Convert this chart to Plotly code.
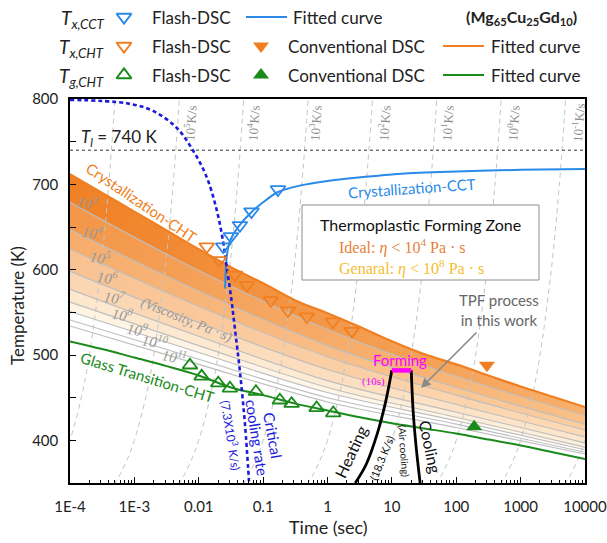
import plotly.graph_objects as go

# ---------------- data ----------------
# T_x,CCT (continuous cooling) - Flash-DSC and fitted curve
cct_flash_t = [0.024, 0.0316, 0.0436, 0.066, 0.17]
cct_flash_T = [627, 639, 652, 668, 694]
cct_fit_t = [0.0257, 0.0263, 0.0272, 0.0288, 0.0325, 0.042, 0.065, 0.1, 0.17, 0.37, 1, 3, 14, 100, 1000, 10000]
cct_fit_T = [578, 600, 615, 627, 638, 651, 667, 679, 691, 698.5, 704, 708, 712.5, 715, 717, 718]

# T_x,CHT (continuous heating)
cht_flash_t = [0.0133, 0.0206, 0.0365, 0.056, 0.132, 0.243, 0.479, 1.21, 2.39]
cht_flash_T = [627, 611, 594, 582, 564, 552, 545, 539, 528]
cht_conv_t = [300]
cht_conv_T = [488]

# T_g,CHT
tg_flash_t = [0.0073, 0.0111, 0.0201, 0.0305, 0.0773, 0.182, 0.277, 0.678, 1.23]
tg_flash_T = [488, 475, 467, 461, 457, 447, 443, 438, 432]
tg_conv_t = [190]
tg_conv_T = [416]

# fitted curves (time grid shared)
fit_t = [1e-4, 3.16e-4, 1e-3, 3.16e-3, 0.01, 0.0316, 0.1, 0.316, 1, 3.16, 10, 31.6, 100, 316, 1000, 3160, 1e4]
cht_fit_T = [712, 690, 668, 646, 624, 603, 584, 564, 549, 533, 516, 501, 489, 476, 463, 451, 439]
tg_fit_T = [516, 507, 497, 487, 476, 462, 453, 443, 435, 427, 420, 414, 408, 401, 394, 386, 378]

# iso-viscosity lines (Pa*s)
visc_t = [1e-4, 1e-2, 1, 100, 1e4]
eta3_T = [679, 599, 530, 475, 429]
eta4_T = [647, 575, 511, 462, 419]
eta5_T = [624, 557, 498, 453, 412]
eta6_T = [598, 538, 483, 442, 404]
eta7_T = [577, 522, 470, 433, 397]
eta8_T = [562, 511, 462, 427, 392]
eta9_T = [551, 503, 456, 423, 389]
eta10_T = [541, 495, 450, 419, 386]
eta11_T = [534, 489, 445, 415, 384]
visc_exponents = [3, 4, 5, 6, 7, 8, 9, 10, 11]

# critical cooling rate curve (7.3x10^3 K/s)
crit_t = [1e-4, 7.6e-4, 1.95e-3, 4.57e-3, 8.1e-3, 0.0132, 0.019, 0.024, 0.0271, 0.0324, 0.0363, 0.0437, 0.0525, 0.0603]
crit_T = [799, 795, 786, 766, 740, 709, 670, 632, 604, 563, 532, 480, 417, 352]

# TPF process in this work
heat_t = [2.7, 4.0, 6.0, 8.0, 10.0]
heat_T = [350, 372, 409, 445, 482]
form_t = [10, 20]
form_T = [482, 482]
cool_t = [20, 21.5, 24, 27.5]
cool_T = [482, 432, 390, 350]

T_liquidus = 740

# constant heating-rate guide lines (K/s), starting from room temperature
guide_rates = [1e6, 1e5, 1e4, 1e3, 1e2, 1e1, 1e0, 1e-1, 1e-2]
room_T = 300
guide_T = [340, 345, 350, 360, 380, 400, 450, 500, 600, 700, 800]
rate_label_exp = [5, 4, 3, 2, 1, 0, -1]

x_tickvals = [1e-4, 1e-3, 1e-2, 1e-1, 1, 10, 100, 1000, 10000]
x_ticktext = ["1E-4", "1E-3", "0.01", "0.1", "1", "10", "100", "1000", "10000"]

# ---------------- styling ----------------
W, H = 607, 543
X0, X1, Y0, Y1 = 70, 585, 99, 483
BLUE = '#2B8AE8'
ORANGE = '#F07F22'
GREEN = '#1A8A1A'
CRIT = '#1C1CD8'
MAG = '#FF00FF'
GRID = '#BDBDBD'
SANS = 'Lato'
SERIF = 'Liberation Serif'

fig = go.Figure()


def tr(x, y, **kw):
    fig.add_trace(go.Scatter(x=x, y=y, xaxis='x', yaxis='y', hoverinfo='skip',
                             showlegend=False, **kw))


# gradient bands below the crystallization curve (left colour -> right colour)
band_colors = [('rgb(240,128,36)', 'rgb(247,176,110)'),
               ('rgb(243,150,72)', 'rgb(249,192,136)'),
               ('rgb(246,172,108)', 'rgb(251,206,160)'),
               ('rgb(249,194,146)', 'rgb(252,218,182)'),
               ('rgb(251,214,178)', 'rgb(253,230,204)'),
               ('rgb(253,231,205)', 'rgb(254,239,220)'),
               ('rgb(255,243,226)', 'rgb(255,247,236)')]
eta_rows = [eta3_T, eta4_T, eta5_T, eta6_T, eta7_T, eta8_T, eta9_T, eta10_T, eta11_T]
tr(fit_t, cht_fit_T, mode='lines', line=dict(width=0, shape='spline', color=ORANGE))
for i, row in enumerate(eta_rows):
    if i < len(band_colors):
        cl, cr = band_colors[i]
        tr(visc_t, row, mode='lines', line=dict(color=GRID, width=1.1, shape='spline'),
           fill='tonexty', fillcolor=cl,
           fillgradient=dict(type='horizontal', colorscale=[[0, cl], [1, cr]]))
    else:
        tr(visc_t, row, mode='lines', line=dict(color=GRID, width=1.1, shape='spline'))

# heating-rate guides
for r in guide_rates:
    tr([(T - room_T) / r for T in guide_T], guide_T, mode='lines',
       line=dict(color='#C4C4C4', width=1, dash='5px,4px', shape='spline'))

# liquidus
tr([1e-4, 1e4], [T_liquidus, T_liquidus], mode='lines', line=dict(color='#333', width=1, dash='3px,3px'))

# fitted curves
tr(fit_t, tg_fit_T, mode='lines', line=dict(color=GREEN, width=2, shape='spline'))
tr(fit_t, cht_fit_T, mode='lines', line=dict(color=ORANGE, width=2.2, shape='spline'))
tr(cct_fit_t, cct_fit_T, mode='lines', line=dict(color=BLUE, width=2, shape='spline', smoothing=0.8))
tr(crit_t, crit_T, mode='lines', line=dict(color=CRIT, width=2.6, dash='4px,3px', shape='spline'))

# TPF path
tr(heat_t, heat_T, mode='lines', line=dict(color='black', width=2.8, shape='spline'))
tr(cool_t, cool_T, mode='lines', line=dict(color='black', width=2.8, shape='spline'))
tr(form_t, form_T, mode='lines', line=dict(color=MAG, width=4.5))

# markers
tr(cht_flash_t, cht_flash_T, mode='markers',
   marker=dict(symbol='triangle-down-open', size=13, color=ORANGE, line=dict(width=1.8, color=ORANGE)))
tr(cct_flash_t, cct_flash_T, mode='markers',
   marker=dict(symbol='triangle-down-open', size=13, color=BLUE, line=dict(width=1.8, color=BLUE)))
tr(tg_flash_t, tg_flash_T, mode='markers',
   marker=dict(symbol='triangle-up-open', size=13, color=GREEN, line=dict(width=1.8, color=GREEN)))
tr(cht_conv_t, cht_conv_T, mode='markers', marker=dict(symbol='triangle-down', size=14, color=ORANGE))
tr(tg_conv_t, tg_conv_T, mode='markers', marker=dict(symbol='triangle-up', size=14, color=GREEN))

# ---------------- legend (overlay pixel axes) ----------------
rows_y = [17, 46, 75]


def ov(x, y, **kw):
    fig.add_trace(go.Scatter(x=x, y=y, xaxis='x2', yaxis='y2', hoverinfo='skip',
                             showlegend=False, cliponaxis=False, **kw))


def note(x, y, text, size=15, color='#222', angle=0, family=SANS, xanchor='center', **kw):
    fig.add_annotation(x=x, y=y, xref='x2', yref='y2', text=text, showarrow=False,
                       font=dict(family=family, size=size, color=color), textangle=angle,
                       xanchor=xanchor, yanchor='middle', **kw)


ov([124], [rows_y[0]], mode='markers',
   marker=dict(symbol='triangle-down-open', size=13, color=BLUE, line=dict(width=2, color=BLUE)))
ov([124], [rows_y[1]], mode='markers',
   marker=dict(symbol='triangle-down-open', size=13, color=ORANGE, line=dict(width=2, color=ORANGE)))
ov([124], [rows_y[2]], mode='markers',
   marker=dict(symbol='triangle-up-open', size=13, color=GREEN, line=dict(width=2, color=GREEN)))
ov([261], [rows_y[1]], mode='markers', marker=dict(symbol='triangle-down', size=14, color=ORANGE))
ov([261], [rows_y[2]], mode='markers', marker=dict(symbol='triangle-up', size=14, color=GREEN))
ov([246, 287], [rows_y[0]] * 2, mode='lines', line=dict(color=BLUE, width=2))
ov([443, 484], [rows_y[1]] * 2, mode='lines', line=dict(color=ORANGE, width=2))
ov([443, 484], [rows_y[2]] * 2, mode='lines', line=dict(color=GREEN, width=2))

note(106, rows_y[0] + 2, '<i>T<sub>x,CCT</sub></i>', size=19, xanchor='right')
note(106, rows_y[1] + 2, '<i>T<sub>x,CHT</sub></i>', size=19, xanchor='right')
note(106, rows_y[2] + 2, '<i>T<sub>g,CHT</sub></i>', size=19, xanchor='right')
for y in rows_y:
    note(150, y, 'Flash-DSC', size=17, xanchor='left')
note(291, rows_y[0], 'Fitted curve', size=17, xanchor='left')
note(286, rows_y[1], 'Conventional DSC', size=17, xanchor='left')
note(286, rows_y[2], 'Conventional DSC', size=17, xanchor='left')
note(489, rows_y[1], 'Fitted curve', size=17, xanchor='left')
note(489, rows_y[2], 'Fitted curve', size=17, xanchor='left')
note(521, rows_y[0], '<b>(Mg<sub>65</sub>Cu<sub>25</sub>Gd<sub>10</sub>)</b>', size=16)

# ---------------- in-plot texts ----------------
note(119, 138, '<i>T<sub>l</sub></i> = 740 K', size=17)
note(141, 202, 'Crystallization-CHT', size=15, color=ORANGE, angle=34)
note(412, 188, 'Crystallization-CCT', size=15, color=BLUE, angle=-4)
note(147, 377, 'Glass Transition-CHT', size=15, color=GREEN, angle=17)

visc_label_pos = [(87, 202), (92, 232), (100, 257), (107, 277), (114, 297),
                  (122, 314), (137, 329), (155, 341), (174, 356)]
for e, (px, py) in zip(visc_exponents, visc_label_pos):
    note(px, py, '<i>10<sup>%d</sup></i>' % e, size=15, color='#989898', family=SERIF, angle=10)
note(186, 320, '<i>(Viscosity, Pa · s)</i>', size=14, color='#989898', family=SERIF, angle=22)

rate_label_x = [190, 253, 315, 384, 447, 513, 578]
for e, px in zip(rate_label_exp, rate_label_x):
    note(px, 123, '10<sup>%d</sup>K/s' % e, size=13, color='#8E8E8E', family=SERIF, angle=-86)

# Thermoplastic forming zone box
fig.add_shape(type='rect', xref='x2', yref='y2', x0=302, x1=539, y0=205, y1=280,
              line=dict(color='#8C8C8C', width=1), fillcolor='white', layer='above')
note(420, 224, 'Thermoplastic Forming Zone', size=16, color='#111')
ov([318], [246], mode='markers', marker=dict(symbol='square', size=5, color='#E8702A'))
ov([318], [267], mode='markers', marker=dict(symbol='square', size=5, color='#F8C21E'))
note(337, 246, 'Ideal: <i>η</i> < 10<sup>4</sup> Pa · s', size=16, color='#E8803A', family=SERIF, xanchor='left')
note(337, 267, 'Genaral: <i>η</i> < 10<sup>8</sup> Pa · s', size=16, color='#F5BE2E', family=SERIF, xanchor='left')

# TPF annotation + arrow
note(499, 310, 'TPF process<br>in this work', size=15, color='#666')
fig.add_annotation(x=421, y=388, xref='x2', yref='y2', ax=478, ay=331, axref='x2', ayref='y2',
                   text='', showarrow=True, arrowhead=2, arrowsize=1.2, arrowwidth=1.6,
                   arrowcolor='#8A8A8A')
note(400, 360, 'Forming', size=15, color=MAG)
note(373, 381, '(10s)', size=11, color=MAG, family=SERIF)
note(350, 452, 'Heating', size=16, color='#111', angle=-65)
note(381, 458, '(18.3 K/s)', size=11, color='#111', angle=-68)
note(404, 451, '(Air cooling)', size=10, color='#111', angle=86)
note(431, 447, 'Cooling', size=16, color='#111', angle=78)
note(273, 435, 'Critical', size=15, color=CRIT, angle=80)
note(257, 437, 'cooling rate', size=15, color=CRIT, angle=81)
note(231, 435, '(7.3X10<sup>3</sup> K/s)', size=12, color=CRIT, angle=81)

# axis titles
note(17, 306, 'Temperature (K)', size=17, angle=-90)
note(328, 527, 'Time (sec)', size=18)

minor_x = [m * 10 ** k for k in range(-4, 4) for m in range(2, 10)]

fig.update_layout(
    width=W, height=H, margin=dict(l=0, r=0, t=0, b=0),
    paper_bgcolor='white', plot_bgcolor='rgba(0,0,0,0)', showlegend=False,
    xaxis=dict(type='log', domain=[X0 / W, X1 / W], range=[-4, 4.0004], anchor='y',
               tickmode='array', tickvals=x_tickvals, ticktext=x_ticktext,
               ticks='inside', ticklen=6, tickwidth=1, tickcolor='black',
               showline=True, linecolor='black', linewidth=1.5, mirror=True,
               showgrid=False, zeroline=False, automargin=False, ticklabelstandoff=9,
               ticklabeloverflow='allow',
               tickfont=dict(family=SANS, size=15, color='#222'),
               minor=dict(tickmode='array', tickvals=minor_x, ticks='inside', ticklen=3.5,
                          tickcolor='black', tickwidth=1, showgrid=False)),
    yaxis=dict(domain=[(H - Y1) / H, (H - Y0) / H], range=[350, 800], anchor='x',
               tick0=0, dtick=100, ticks='inside', ticklen=6, tickwidth=1, tickcolor='black',
               showline=True, linecolor='black', linewidth=1.5, mirror=True,
               showgrid=False, zeroline=False, automargin=False, ticklabelstandoff=7,
               ticklabeloverflow='allow',
               tickfont=dict(family=SANS, size=15, color='#222'),
               minor=dict(tick0=0, dtick=50, ticks='inside', ticklen=6, tickcolor='black',
                          tickwidth=1, showgrid=False)),
    xaxis2=dict(domain=[0, 1], range=[0, W], anchor='y2', visible=False, fixedrange=True),
    yaxis2=dict(domain=[0, 1], range=[H, 0], anchor='x2', visible=False, fixedrange=True),
)

fig.write_html('out.html')
